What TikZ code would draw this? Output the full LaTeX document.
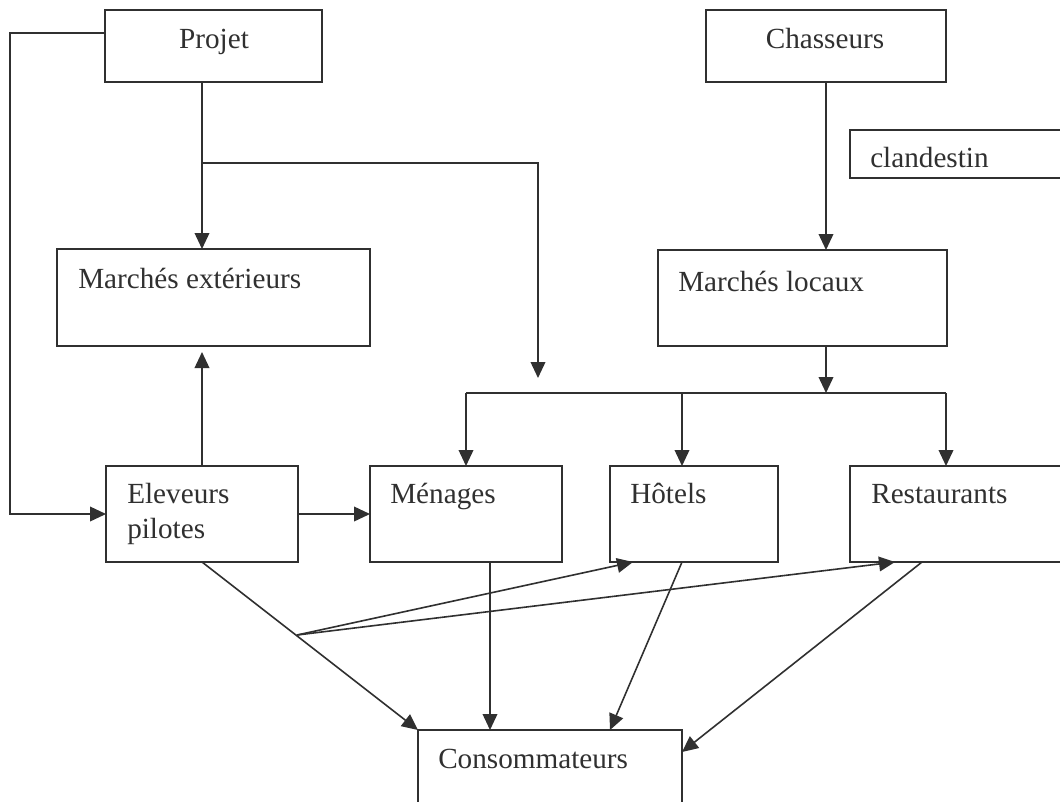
\documentclass[tikz,border=0pt]{standalone}
\usepackage{fontspec}
\setmainfont{Liberation Serif}
\usetikzlibrary{arrows.meta}
\definecolor{ink}{HTML}{303030}
\begin{document}
\begin{tikzpicture}[x=0.75pt,y=-0.75pt,
  box/.style 2 args={draw=ink, line width=1.2pt, inner sep=0pt, outer sep=0pt,
    minimum width=#1*0.75pt, minimum height=#2*0.75pt},
  txt/.style={text=ink, inner sep=0pt, font=\fontsize{21.9}{26}\selectfont},
  ln/.style={draw=ink, line width=1.2pt},
  arr/.style={ln, -{Triangle[length=12pt,width=11pt]}}]
\useasboundingbox (0,0) rectangle (1060,801);
\clip (0,0) rectangle (1060,801);
\fill[white] (0,0) rectangle (1060,801);

% boxes
\node[box={217}{72}] (projet) at (213.5,46) {};
\node[box={240}{72}] (chas) at (826,46) {};
\node[box={260}{48}] (cland) at (980,154) {};
\node[box={313}{97}] (mext) at (213.5,297.5) {};
\node[box={289}{96}] (mloc) at (802.5,298) {};
\node[box={192}{96}] (elev) at (202,514) {};
\node[box={192}{96}] (men) at (466,514) {};
\node[box={168}{96}] (hot) at (694,514) {};
\node[box={260}{96}] (rest) at (980,514) {};
\node[box={264}{120}] (cons) at (550,790) {};

% texts
\node[txt, anchor=base] (tprojet) at (214,48) {Projet};
\node[txt, anchor=base] (tchas) at (825,48) {Chasseurs};
\node[txt, anchor=base west] (tcland) at (870,167) {clandestin};
\node[txt, anchor=base west] (tmext) at (78,288) {Marchés extérieurs};
\node[txt, anchor=base west] (tmloc) at (678,291) {Marchés locaux};
\node[txt, anchor=base west] (telev1) at (127,503) {Eleveurs};
\node[txt, anchor=base west] (telev2) at (127,538) {pilotes};
\node[txt, anchor=base west] (tmen) at (390,503) {Ménages};
\node[txt, anchor=base west] (thot) at (630,503) {Hôtels};
\node[txt, anchor=base west] (trest) at (871,503) {Restaurants};
\node[txt, anchor=base west] (tcons) at (438,768) {Consommateurs};

% junction coordinates
\coordinate (j1) at (202,163);
\coordinate (j2) at (538,163);
\coordinate (j3) at (538,378);
\coordinate (l1) at (10,33);
\coordinate (b0) at (826,393);
\coordinate (bL) at (466,393);
\coordinate (bH) at (682,393);
\coordinate (bR) at (946,393);
\coordinate (mx) at (490,600);
\coordinate (hx) at (682,600);
\coordinate (hy) at (610,600);
\coordinate (rx) at (922,600);
\coordinate (ry) at (683,752);
\coordinate (f) at (297,635);
\coordinate (fh) at (633,600);
\coordinate (fr) at (895,600);

% connectors
\draw[arr] (j1 |- projet.south) -- (j1 |- mext.north);
\draw[arr] (j1) -- (j2) -- (j3);
\draw[arr] (projet.west |- l1) -- (l1) -- (l1 |- elev.west) -- (elev.west);
\draw[arr, shorten >=4.5pt] (elev.north) -- (elev.north |- mext.south);
\draw[arr] (chas.south) -- (chas.south |- mloc.north);
\draw[arr] (b0 |- mloc.south) -- (b0);
\draw[ln] (bL) -- (bR);
\draw[arr] (bL) -- (bL |- men.north);
\draw[arr] (bH) -- (bH |- hot.north);
\draw[arr] (bR) -- (bR |- rest.north);
\draw[arr] (elev.east) -- (men.west);
\draw[arr] (elev.south) -- (cons.north west);
\draw[arr] (mx |- men.south) -- (mx |- cons.north);
\draw[arr] (hx |- hot.south) -- (hy |- cons.north);
\draw[arr] (rx |- rest.south) -- (ry -| cons.east);
\draw[arr] (f) -- (fh |- hot.south);
\draw[arr] (f) -- (fr |- rest.south);
\end{tikzpicture}
\end{document}
